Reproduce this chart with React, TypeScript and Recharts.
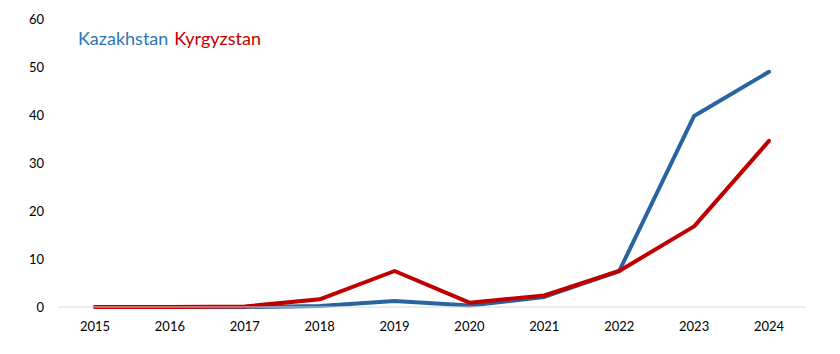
import { Line, LineChart, XAxis, YAxis } from 'recharts'

const years = ['2015', '2016', '2017', '2018', '2019', '2020', '2021', '2022', '2023', '2024']
const kazakhstan = [0, 0, 0, 0.2, 1.25, 0.3, 2.1, 7.5, 39.8, 49.0]
const kyrgyzstan = [0, 0, 0.1, 1.6, 7.5, 0.9, 2.4, 7.5, 16.8, 34.6]
const yTicks = [0, 10, 20, 30, 40, 50, 60]

const data = years.map((year, i) => ({
  year,
  kz: kazakhstan[i],
  kg: kyrgyzstan[i],
}))

const FONT = 'Lato, "Open Sans", sans-serif'

export default function App() {
  return (
    <div style={{ position: 'absolute', left: 0, top: 0, width: 840, height: 354, background: '#fff' }}>
      <LineChart
        width={840}
        height={354}
        data={data}
        margin={{ top: 19, right: 34, bottom: 17, left: 0 }}
      >
        <XAxis
          dataKey="year"
          padding={{ left: 37, right: 37 }}
          tickLine={false}
          axisLine={{ stroke: '#d9d9d9', strokeWidth: 1 }}
          tick={{ fill: '#000', fontSize: 13, fontFamily: FONT }}
          tickMargin={9}
          height={30}
        />
        <YAxis
          domain={[0, 60]}
          ticks={yTicks}
          width={58}
          tickLine={false}
          axisLine={false}
          tick={{ fill: '#000', fontSize: 13, fontFamily: FONT }}
          tickMargin={8}
        />
        <Line
          type="linear"
          dataKey="kz"
          name="Kazakhstan"
          stroke="#2A64A0"
          strokeWidth={4}
          dot={false}
          activeDot={false}
          strokeLinecap="round"
          strokeLinejoin="round"
          isAnimationActive={false}
        />
        <Line
          type="linear"
          dataKey="kg"
          name="Kyrgyzstan"
          stroke="#C00000"
          strokeWidth={4}
          dot={false}
          activeDot={false}
          strokeLinecap="round"
          strokeLinejoin="round"
          isAnimationActive={false}
        />
      </LineChart>
      <div
        style={{
          position: 'absolute',
          left: 78,
          top: 26,
          fontFamily: FONT,
          fontSize: 18,
          lineHeight: '24px',
          whiteSpace: 'nowrap',
        }}
      >
        <span style={{ color: '#2E75B6' }}>Kazakhstan</span>
        <span style={{ color: '#C00000', marginLeft: 6 }}>Kyrgyzstan</span>
      </div>
    </div>
  )
}
